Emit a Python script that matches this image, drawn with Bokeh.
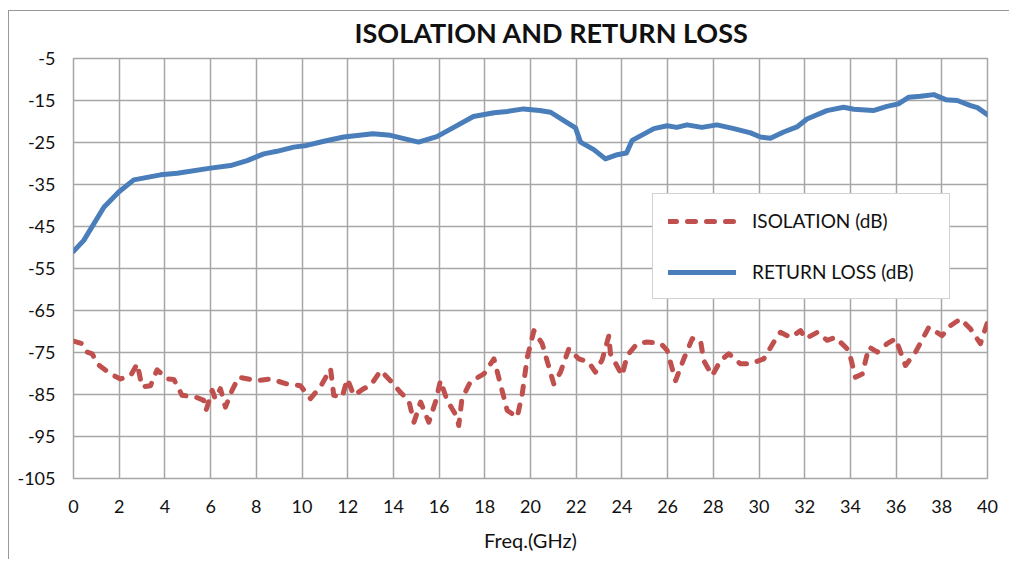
from bokeh.plotting import figure
from bokeh.models import Range1d, FixedTicker, Legend, LegendItem
from bokeh.embed import file_html
from bokeh.resources import INLINE

# ---- data ----
rl_x = [0, 0.45, 1.33, 1.98, 2.64, 3.81, 4.54, 6.0, 6.87, 7.6, 8.33, 8.9, 9.64, 10.2, 10.96,
        11.83, 13.1, 13.87, 15.1, 15.9, 16.64, 17.5, 18.4, 18.98, 19.7, 20.4, 20.88, 21.46,
        21.97, 22.19, 22.77, 23.28, 23.8, 24.2, 24.45, 25.4, 25.98, 26.4, 26.85, 27.5, 28.16,
        28.9, 29.63, 30.06, 30.5, 31.08, 31.66, 32.1, 32.97, 33.7, 34.15, 35.0, 35.6, 36.1,
        36.56, 37.07, 37.65, 38.17, 38.68, 39.26, 39.56, 40.0]
rl_y = [-50.9, -48.3, -40.4, -36.8, -33.9, -32.7, -32.3, -31.1, -30.5, -29.3, -27.7, -27.1,
        -26.1, -25.7, -24.7, -23.7, -22.9, -23.3, -24.9, -23.6, -21.4, -18.8, -17.9, -17.6,
        -17.0, -17.4, -17.8, -19.8, -21.5, -24.9, -26.7, -28.9, -27.9, -27.5, -24.5, -21.7,
        -21.0, -21.4, -20.8, -21.4, -20.8, -21.7, -22.7, -23.7, -24.0, -22.5, -21.3, -19.4,
        -17.4, -16.6, -17.1, -17.4, -16.4, -15.8, -14.2, -14.0, -13.6, -14.8, -15.0, -16.2,
        -16.7, -18.4]

iso_x = [0.0, 0.38, 0.6, 0.82, 1.04, 1.62, 2.06, 2.5, 2.79, 3.0, 3.37, 3.66, 4.1, 4.39, 4.75,
         5.34, 5.7, 5.8, 6.07, 6.2, 6.43, 6.65, 6.94, 7.23, 8.04, 8.62, 9.35, 9.93, 10.37,
         10.8, 11.25, 11.39, 11.76, 11.98, 12.27, 12.7, 13.0, 13.44, 13.87, 14.31, 14.67,
         14.9, 15.19, 15.55, 15.84, 16.06, 16.35, 16.79, 16.86, 17.0, 17.37, 17.96, 18.4,
         18.98, 19.42, 19.64, 19.86, 20.15, 20.51, 21.02, 21.31, 21.68, 22.11, 22.55, 22.84,
         23.14, 23.43, 23.5, 24.01, 24.23, 24.67, 25.1, 25.69, 25.98, 26.35, 26.71, 27.08,
         27.44, 27.58, 27.95, 28.32, 28.68, 29.19, 29.63, 30.21, 30.65, 30.94, 31.38, 31.82,
         32.04, 32.55, 32.98, 33.35, 33.93, 34.22, 34.52, 34.81, 35.18, 35.61, 35.98, 36.41,
         36.85, 37.43, 38.01, 38.38, 38.82, 39.26, 39.69, 40.0]
iso_y = [-72.3, -72.9, -74.9, -75.3, -77.7, -80.1, -81.3, -80.5, -77.7, -83.2, -82.9, -79.1,
         -81.3, -81.4, -85.2, -85.6, -86.4, -88.8, -84.0, -86.0, -83.6, -88.0, -84.0, -80.9,
         -81.7, -81.3, -82.5, -82.9, -86.0, -83.2, -78.9, -85.2, -85.6, -81.3, -85.2, -83.6,
         -82.9, -79.3, -81.7, -84.5, -86.4, -91.6, -86.8, -91.6, -86.8, -81.7, -86.4, -90.4,
         -92.4, -86.0, -82.0, -80.1, -76.5, -88.8, -90.4, -84.8, -76.1, -69.8, -72.9, -82.5,
         -79.7, -74.1, -76.5, -77.3, -79.7, -76.7, -71.0, -75.3, -80.5, -75.7, -72.9, -72.5,
         -72.8, -74.5, -81.7, -76.5, -71.7, -72.1, -76.9, -80.5, -76.9, -75.3, -77.7, -77.7,
         -76.5, -72.5, -70.2, -71.4, -69.8, -71.7, -70.2, -72.1, -71.4, -74.5, -80.9, -80.1,
         -73.7, -74.9, -72.9, -71.7, -78.1, -74.9, -69.0, -71.0, -68.6, -67.0, -69.4, -72.9,
         -67.8]

x_ticks = list(range(0, 41, 2))
y_ticks = list(range(-105, 0, 10))
y_tick_labels = {t: str(t) for t in y_ticks}   # plain hyphen, as in the reference

TITLE = "ISOLATION AND RETURN LOSS"
X_LABEL = "Freq.(GHz)"
ISO_NAME = "ISOLATION (dB)"
RL_NAME = "RETURN LOSS (dB)"

FONT = "Lato"
GRID = "#a6a6a6"
BLUE = "#4a7ebb"
RED = "#c0504d"
TEXT = "#111111"

# chart-area border (thin grey line at the top and left of the chart box), drawn as CSS background
BORDER_BG = ("linear-gradient(#999999,#999999) 8px 10px / 1px calc(100% - 10px) no-repeat, "
             "linear-gradient(#999999,#999999) 8px 10px / calc(100% - 8px) 1px no-repeat, white")

p = figure(width=1009, height=559, output_backend="svg", toolbar_location=None,
           x_range=Range1d(0, 40), y_range=Range1d(-105, -5),
           min_border_left=73, min_border_right=22, min_border_top=58, min_border_bottom=81,
           title=TITLE, styles={"background": BORDER_BG})

p.title.text_font = FONT
p.title.text_font_size = "27px"
p.title.text_font_style = "bold"
p.title.text_color = TEXT
p.title.align = "left"
p.title.offset = 281
p.title.standoff = 20

p.background_fill_color = "white"
p.border_fill_alpha = 0.0
p.outline_line_color = GRID
p.outline_line_width = 1.5

for ax in (p.xaxis[0], p.yaxis[0]):
    ax.axis_line_color = None
    ax.major_tick_line_color = None
    ax.minor_tick_line_color = None
    ax.major_tick_out = 0
    ax.major_tick_in = 0
    ax.minor_tick_out = 0
    ax.minor_tick_in = 0
    ax.major_label_text_font = FONT
    ax.major_label_text_font_size = "18px"
    ax.major_label_text_color = TEXT

p.xaxis.major_label_standoff = 21
p.yaxis.major_label_standoff = 18
p.xaxis.ticker = FixedTicker(ticks=x_ticks)
p.yaxis.ticker = FixedTicker(ticks=y_ticks)
p.yaxis.major_label_overrides = y_tick_labels
p.xaxis.axis_label = X_LABEL
p.xaxis.axis_label_text_font = FONT
p.xaxis.axis_label_text_font_size = "20px"
p.xaxis.axis_label_text_font_style = "normal"
p.xaxis.axis_label_text_color = TEXT
p.xaxis.axis_label_standoff = 12

p.xgrid.grid_line_color = GRID
p.ygrid.grid_line_color = GRID
p.xgrid.grid_line_width = 1.5
p.ygrid.grid_line_width = 1.5

r_iso = p.line(iso_x, iso_y, line_color=RED, line_width=5, line_dash="8 11",
               line_cap="round", line_join="round")
r_rl = p.line(rl_x, rl_y, line_color=BLUE, line_width=5, line_cap="round", line_join="round")

legend = Legend(items=[LegendItem(label=ISO_NAME, renderers=[r_iso]),
                       LegendItem(label=RL_NAME, renderers=[r_rl])],
                location=(579, 179), orientation="vertical",
                label_text_font=FONT, label_text_font_size="19px", label_text_color=TEXT,
                glyph_width=68, glyph_height=22, label_standoff=16, label_width=182,
                spacing=28, padding=15, margin=0,
                border_line_color="#a6a6a6", border_line_width=1.5,
                background_fill_color="white", background_fill_alpha=1.0)
p.add_layout(legend, "center")

open("out.html", "w").write(file_html(p, INLINE))
